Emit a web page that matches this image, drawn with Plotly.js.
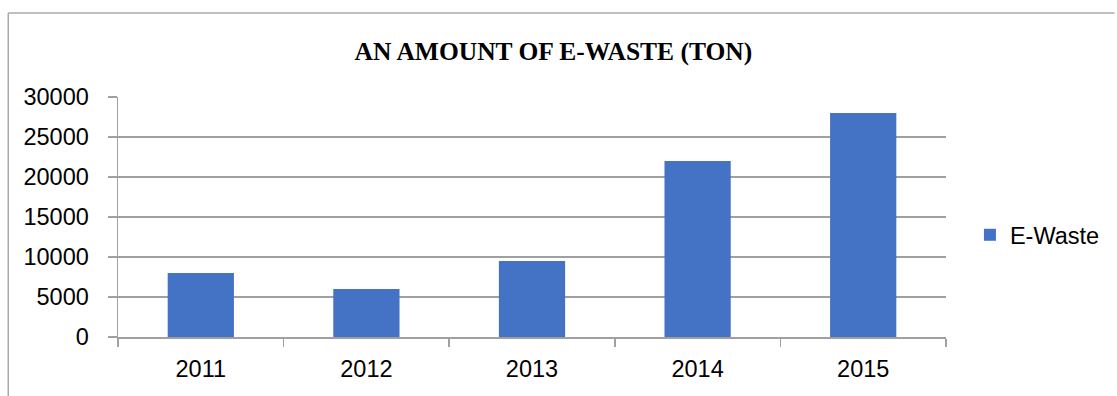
<!DOCTYPE html>
<html>
<head>
<meta charset="utf-8">
<script src="https://cdn.plot.ly/plotly-3.0.1.min.js"></script>
<style>html,body{margin:0;padding:0;background:#fff;}#chart{width:1117px;height:396px;}</style>
</head>
<body>
<div id="chart"></div>
<script>
const years = ['2011', '2012', '2013', '2014', '2015'];
const eWaste = [8000, 6000, 9500, 22000, 28000];
const seriesName = 'E-Waste';
const chartTitle = 'AN AMOUNT OF E-WASTE (TON)';

const W = 1117, H = 396;
const L = 118, R = 948, T = 97, B = 337;
const px = x => (x - L) / (R - L);
const py = y => (B - y) / (B - T);

const trace = {
  type: 'bar',
  x: years,
  y: eWaste,
  name: seriesName,
  marker: {color: '#4472C4'},
  showlegend: true,
  hoverinfo: 'none'
};

const layout = {
  width: W, height: H,
  margin: {l: L, r: W - R, t: T, b: H - B, pad: 0},
  paper_bgcolor: '#fff', plot_bgcolor: '#fff',
  font: {family: 'Liberation Sans, Arial, sans-serif', size: 23.5, color: '#000'},
  bargap: 0.6,
  title: {
    text: '<b>' + chartTitle + '</b>',
    font: {family: 'Liberation Serif, Times New Roman, serif', size: 25.5, color: '#000'},
    xref: 'paper', x: px(554.5), xanchor: 'center',
    yref: 'container', y: 1 - 51 / H, yanchor: 'middle'
  },
  xaxis: {
    type: 'category',
    showgrid: false,
    showline: true, linecolor: '#a0a0a0', linewidth: 1.5,
    ticks: 'outside', tickson: 'boundaries', ticklen: 8, tickcolor: '#a0a0a0', tickwidth: 1.5,
    tickfont: {size: 23.5},
    ticklabelstandoff: 10,
    fixedrange: true
  },
  yaxis: {
    range: [0, 30000],
    dtick: 5000,
    tickformat: 'd',
    showgrid: true, gridcolor: '#a0a0a0', gridwidth: 1.5,
    showline: true, linecolor: '#a0a0a0', linewidth: 1.5,
    zeroline: false,
    ticks: 'outside', ticklen: 9, tickcolor: '#a0a0a0', tickwidth: 1.5,
    tickfont: {size: 23.5},
    ticklabelstandoff: 14,
    fixedrange: true
  },
  legend: {
    x: px(972), xanchor: 'left',
    y: py(235), yanchor: 'middle',
    font: {size: 23.5},
    bgcolor: 'rgba(0,0,0,0)'
  },
  shapes: [
    {type: 'line', xref: 'paper', yref: 'paper', x0: px(8), x1: px(1117), y0: py(13), y1: py(13), line: {color: '#ababab', width: 1.5}},
    {type: 'line', xref: 'paper', yref: 'paper', x0: px(8), x1: px(8), y0: py(13), y1: py(400), line: {color: '#ababab', width: 1.5}}
  ]
};

Plotly.newPlot('chart', [trace], layout, {displayModeBar: false, staticPlot: true});
</script>
</body>
</html>
